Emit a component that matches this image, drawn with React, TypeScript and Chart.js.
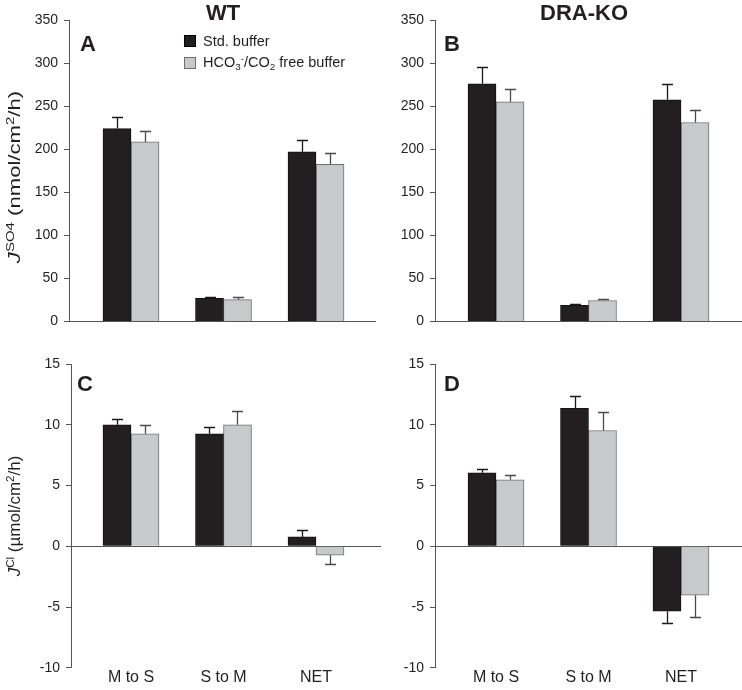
import React, { useEffect, useRef } from 'react';
import { Chart, registerables } from 'chart.js';

Chart.register(...registerables);

const FONT = '"Liberation Sans", Arial, Helvetica, sans-serif';

// ---- data ----
const categories = ['M to S', 'S to M', 'NET'];
const seriesNames = ['Std. buffer', 'HCO3-/CO2 free buffer'];

// Panel A: WT, J SO4 (nmol/cm2/h)
const wtSo4Std = [224, 27, 197];
const wtSo4StdErr = [13.5, 1.2, 13.5];
const wtSo4Free = [208.5, 25.5, 182.5];
const wtSo4FreeErr = [12.5, 2.8, 13.5];

// Panel B: DRA-KO, J SO4
const koSo4Std = [276, 19, 257.5];
const koSo4StdErr = [19.5, 1.5, 18];
const koSo4Free = [255, 24.5, 231];
const koSo4FreeErr = [14.5, 2, 14];

// Panel C: WT, J Cl (umol/cm2/h)
const wtClStd = [10.0, 9.25, 0.77];
const wtClStdErr = [0.45, 0.6, 0.55];
const wtClFree = [9.25, 10.0, -0.74];
const wtClFreeErr = [0.7, 1.1, 0.7];

// Panel D: DRA-KO, J Cl
const koClStd = [6.05, 11.35, -5.35];
const koClStdErr = [0.35, 1.0, 1.0];
const koClFree = [5.47, 9.53, -4.02];
const koClFreeErr = [0.38, 1.55, 1.78];

// axis ranges
const so4Range = [0, 350];
const so4Step = 50;
const clRange = [-10, 15];
const clStep = 5;

const errorBarPlugin = {
  id: 'errorBars',
  afterDatasetsDraw(chart: any) {
    const ctx = chart.ctx;
    const yScale = chart.scales.y;
    chart.data.datasets.forEach((ds: any, di: number) => {
      const meta = chart.getDatasetMeta(di);
      const errs: number[] = ds.errors || [];
      meta.data.forEach((bar: any, i: number) => {
        const v = ds.data[i].y;
        const e = errs[i];
        if (e == null) return;
        const sign = v < 0 ? -1 : 1;
        const y0 = yScale.getPixelForValue(v);
        const y1 = yScale.getPixelForValue(v + sign * e);
        const x = Math.round(bar.x) + 0.5;
        const yy = Math.round(y1) + 0.5;
        ctx.save();
        ctx.strokeStyle = ds.errorColor;
        ctx.lineWidth = 1.3;
        ctx.beginPath();
        ctx.moveTo(x, y0);
        ctx.lineTo(x, yy);
        ctx.moveTo(x - 5.5, yy);
        ctx.lineTo(x + 5.5, yy);
        ctx.stroke();
        ctx.restore();
      });
    });
  },
};

type PanelProps = {
  left: number; top: number; width: number; height: number;
  axisWidth: number; padTop: number; padBottom: number;
  xMin: number; xMax: number;
  range: number[]; step: number;
  std: number[]; stdErr: number[]; free: number[]; freeErr: number[];
  showX: boolean;
};

function Panel(p: PanelProps) {
  const ref = useRef<HTMLCanvasElement>(null);
  useEffect(() => {
    const chart = new Chart(ref.current as HTMLCanvasElement, {
      type: 'bar',
      data: {
        datasets: [
          {
            label: seriesNames[0],
            data: p.std.map((v, i) => ({ x: i + 1, y: v })),
            errors: p.stdErr,
            errorColor: '#1a1a1a',
            backgroundColor: '#231f20',
            borderColor: '#111111',
            borderWidth: 1,
          } as any,
          {
            label: seriesNames[1],
            data: p.free.map((v, i) => ({ x: i + 1, y: v })),
            errors: p.freeErr,
            errorColor: '#4a4a4a',
            backgroundColor: '#c8c9cb',
            borderColor: '#6e6f71',
            borderWidth: 1,
          } as any,
        ],
      },
      options: {
        animation: false,
        responsive: false,
        maintainAspectRatio: false,
        layout: { padding: { top: p.padTop, bottom: p.padBottom, left: 0, right: 0 } },
        datasets: { bar: { barThickness: 28 } },
        plugins: { legend: { display: false }, tooltip: { enabled: false } },
        scales: {
          x: {
            type: 'linear',
            offset: false,
            min: p.xMin,
            max: p.xMax,
            grid: { display: false, drawTicks: false, offset: false },
            border: { display: false },
            ticks: {
              display: p.showX,
              stepSize: 1,
              includeBounds: false,
              autoSkip: false,
              maxRotation: 0,
              padding: 0,
              color: '#231f20',
              font: { family: FONT, size: 16 },
              callback: (v: any) => categories[Number(v) - 1] ?? '',
            },
          },
          y: {
            min: p.range[0],
            max: p.range[1],
            afterFit: (s: any) => { s.width = p.axisWidth; },
            border: { display: true, color: '#555555', width: 1 },
            grid: {
              color: (c: any) => (c.tick && c.tick.value === 0 ? '#555555' : 'rgba(0,0,0,0)'),
              tickColor: '#555555',
              tickLength: 5,
              drawTicks: true,
              lineWidth: 1,
            },
            ticks: {
              stepSize: p.step,
              padding: 6,
              color: '#231f20',
              font: { family: FONT, size: 14 },
            },
          },
        },
      } as any,
      plugins: [errorBarPlugin],
    });
    return () => chart.destroy();
  }, []);
  return (
    <canvas
      ref={ref}
      width={p.width}
      height={p.height}
      style={{ position: 'absolute', left: p.left, top: p.top, width: p.width, height: p.height }}
    />
  );
}

const sup: React.CSSProperties = { fontSize: '0.68em', position: 'relative', top: '-0.55em' };
const sub: React.CSSProperties = { fontSize: '0.68em', position: 'relative', top: '0.3em' };

export default function App() {
  const bold: React.CSSProperties = { position: 'absolute', fontWeight: 'bold', fontSize: 22, lineHeight: '22px' };
  return (
    <div
      style={{
        position: 'absolute', left: 0, top: 0, width: 742, height: 690,
        background: '#ffffff', fontFamily: FONT, color: '#231f20', overflow: 'hidden',
      }}
    >
      <Panel left={0} top={0} width={376} height={336} axisWidth={69} padTop={20} padBottom={11}
        xMin={0.3297} xMax={3.6486} range={so4Range} step={so4Step}
        std={wtSo4Std} stdErr={wtSo4StdErr} free={wtSo4Free} freeErr={wtSo4FreeErr} showX={false} />
      <Panel left={367} top={0} width={375} height={336} axisWidth={68} padTop={20} padBottom={11}
        xMin={0.3405} xMax={3.6595} range={so4Range} step={so4Step}
        std={koSo4Std} stdErr={koSo4StdErr} free={koSo4Free} freeErr={koSo4FreeErr} showX={false} />
      <Panel left={0} top={340} width={381} height={350} axisWidth={71} padTop={24} padBottom={3}
        xMin={0.3514} xMax={3.7027} range={clRange} step={clStep}
        std={wtClStd} stdErr={wtClStdErr} free={wtClFree} freeErr={wtClFreeErr} showX={true} />
      <Panel left={367} top={340} width={375} height={350} axisWidth={68} padTop={24} padBottom={3}
        xMin={0.3405} xMax={3.6595} range={clRange} step={clStep}
        std={koClStd} stdErr={koClStdErr} free={koClFree} freeErr={koClFreeErr} showX={true} />

      <div style={{ ...bold, left: 223, top: 2, transform: 'translateX(-50%)' }}>WT</div>
      <div style={{ ...bold, left: 584, top: 2, transform: 'translateX(-50%)' }}>DRA-KO</div>
      <div style={{ ...bold, left: 80, top: 33 }}>A</div>
      <div style={{ ...bold, left: 444, top: 33 }}>B</div>
      <div style={{ ...bold, left: 77, top: 373 }}>C</div>
      <div style={{ ...bold, left: 444, top: 373 }}>D</div>

      <div style={{ position: 'absolute', left: 184, top: 30, fontSize: 14.5, lineHeight: '22px' }}>
        <div style={{ display: 'flex', alignItems: 'center', height: 22, whiteSpace: 'nowrap' }}>
          <span style={{ display: 'inline-block', width: 12, height: 12, boxSizing: 'border-box', background: '#231f20', border: '1px solid #000', marginRight: 7 }} />
          <span>{seriesNames[0]}</span>
        </div>
        <div style={{ display: 'flex', alignItems: 'center', height: 22, whiteSpace: 'nowrap' }}>
          <span style={{ display: 'inline-block', width: 12, height: 12, boxSizing: 'border-box', background: '#c8c9cb', border: '1px solid #6e6f71', marginRight: 7 }} />
          <span>HCO<span style={sub}>3</span><span style={sup}>-</span>/CO<span style={sub}>2</span> free buffer</span>
        </div>
      </div>

      <div style={{ position: 'absolute', left: 15, top: 177, transform: 'translate(-50%,-50%) rotate(-90deg) scaleX(1.3)', whiteSpace: 'nowrap', fontSize: 17, lineHeight: '20px' }}>
        <i>J</i><span style={sup}>SO4</span> (nmol/cm<span style={sup}>2</span>/h)
      </div>
      <div style={{ position: 'absolute', left: 15, top: 516, transform: 'translate(-50%,-50%) rotate(-90deg)', whiteSpace: 'nowrap', fontSize: 17, lineHeight: '20px' }}>
        <i>J</i><span style={sup}>Cl</span> (µmol/cm<span style={sup}>2</span>/h)
      </div>
    </div>
  );
}
